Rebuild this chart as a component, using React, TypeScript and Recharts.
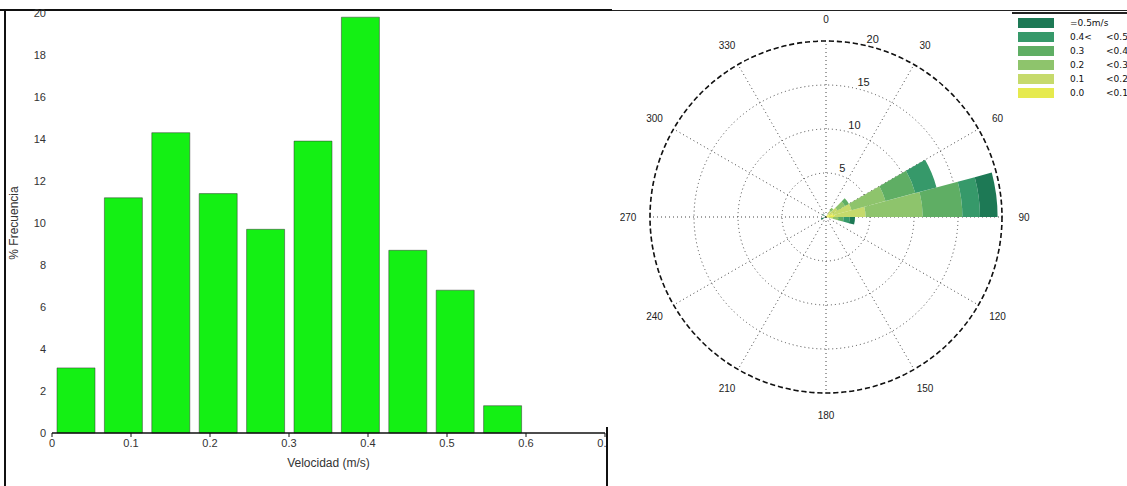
import React from 'react';
import {
  BarChart, Bar, XAxis, YAxis, Label,
  RadialBarChart, RadialBar, PolarGrid, PolarAngleAxis, PolarRadiusAxis, Legend,
} from 'recharts';

// histogram (left)
const speedCenters = [0.03, 0.09, 0.15, 0.21, 0.27, 0.33, 0.39, 0.45, 0.51, 0.57];
const frequency = [3.1, 11.2, 14.3, 11.4, 9.7, 13.9, 19.8, 8.7, 6.8, 1.3];
const speedTicks = [0, 0.1, 0.2, 0.3, 0.4, 0.5, 0.6, 0.7];
const freqTicks = [0, 2, 4, 6, 8, 10, 12, 14, 16, 18, 20];

// wind rose (right): 15 deg sectors, each labelled by the bearing where it ends (clockwise from N)
const directions = [0, 15, 30, 45, 60, 75, 90, 105, 120, 135, 150, 165, 180, 195, 210, 225, 240, 255, 270, 285, 300, 315, 330, 345];
const s00 = [0, 0, 0, 0.3, 0.5, 0.8, 1.0, 0.3, 0, 0, 0, 0, 0, 0, 0, 0, 0, 0, 0, 0, 0, 0, 0, 0];
const s01 = [0, 0, 0, 0.5, 1.0, 2.2, 3.5, 0.5, 0, 0, 0, 0, 0, 0, 0, 0, 0, 0, 0, 0, 0, 0, 0, 0];
const s02 = [0, 0, 0, 0.4, 1.0, 4.0, 6.5, 0.6, 0, 0, 0, 0, 0, 0, 0, 0, 0, 0, 0, 0, 0, 0, 0, 0];
const s03 = [0, 0, 0, 0, 0.5, 3.5, 4.5, 0.6, 0, 0, 0, 0, 0, 0, 0, 0, 0, 0, 0, 0, 0, 0, 0, 0];
const s04 = [0, 0, 0, 0, 0, 2.5, 2.0, 0.7, 0, 0, 0, 0, 0, 0, 0, 0, 0, 0, 0, 0, 0, 0, 0, 0];
const s05 = [0, 0, 0, 0, 0, 0, 2.0, 0.6, 0, 0, 0, 0, 0, 0, 0, 0, 0, 0.6, 0, 0, 0, 0.5, 0, 0];
const roseKeys = ['s00', 's01', 's02', 's03', 's04', 's05'];
const roseColors = ['#e6ea4e', '#c6da6c', '#8ec46c', '#5fae64', '#36996a', '#1d7955'];
const binLow = ['0.0', '0.1', '0.2', '0.3', '0.4<', '=0.5m/s'];
const binHigh = ['<0.1', '<0.2', '<0.3', '<0.4', '<0.5', ''];
const radiusTicks = [5, 10, 15, 20];
const spokeBearings = [0, 30, 60, 90, 120, 150, 180, 210, 240, 270, 300, 330];

const histData = speedCenters.map((v, i) => ({ v, f: frequency[i] }));
const roseSeries = [s00, s01, s02, s03, s04, s05];
const roseData = directions.map((d, i) => {
  const row: Record<string, any> = { dir: String(d) };
  roseKeys.forEach((k, j) => { row[k] = roseSeries[j][i]; });
  return row;
});

const font = '"Liberation Sans", Arial, sans-serif';

const AngleTick = (props: any) => {
  const { x, y, payload } = props;
  if (Number(payload.value) % 30 !== 0) return null;
  return (
    <text x={x} y={y} textAnchor="middle" dominantBaseline="central" fontSize={10} fontFamily={font} fill="#222">
      {payload.value}
    </text>
  );
};

const RadiusTick = (props: any) => {
  const { x, y, payload } = props;
  return (
    <text x={x + 4} y={y - 6} textAnchor="start" dominantBaseline="central" fontSize={11} fontFamily={font} fill="#222">
      {payload.value}
    </text>
  );
};

const RoseLegend = () => (
  <div style={{ background: '#fff', borderTop: '2px solid #222', fontFamily: '"DejaVu Sans", sans-serif', fontSize: 9, color: '#111', paddingTop: 2 }}>
    {[5, 4, 3, 2, 1, 0].map(i => (
      <div key={i} style={{ display: 'flex', alignItems: 'center', height: 14 }}>
        <span style={{ display: 'inline-block', width: 36, height: 10, background: roseColors[i], marginLeft: 6, marginRight: 16 }} />
        <span style={{ width: 36 }}>{binLow[i]}</span>
        <span>{binHigh[i]}</span>
      </div>
    ))}
  </div>
);

const App = () => (
  <div style={{ position: 'absolute', left: 0, top: 0, width: 1127, height: 486, background: '#fff', overflow: 'hidden' }}>
    {/* frame lines */}
    <div style={{ position: 'absolute', left: 0, top: 9, width: 612, height: 2, background: '#111' }} />
    <div style={{ position: 'absolute', left: 612, top: 10, width: 515, height: 1, background: '#222' }} />
    <div style={{ position: 'absolute', left: 4, top: 10, width: 2, height: 476, background: '#111' }} />
    <div style={{ position: 'absolute', left: 606, top: 427, width: 2, height: 59, background: '#111' }} />

    <div style={{ position: 'absolute', left: 0, top: 0, width: 607, height: 486, overflow: 'hidden' }}>
      <BarChart width={640} height={486} data={histData} margin={{ top: 13, right: 35, left: 10, bottom: 15 }}>
        <XAxis
          dataKey="v" type="number" domain={[0, 0.7]} ticks={speedTicks}
          tick={{ fontSize: 11, fill: '#333', fontFamily: font }} tickSize={4} tickMargin={2}
          axisLine={{ stroke: '#111', strokeWidth: 1.5 }} tickLine={{ stroke: '#111' }} height={38}
        >
          <Label value="Velocidad (m/s)" position="insideBottom" offset={4} style={{ fontSize: 12, fill: '#333', fontFamily: font }} />
        </XAxis>
        <YAxis
          type="number" domain={[0, 20]} ticks={freqTicks} width={42}
          tick={{ fontSize: 11, fill: '#333', fontFamily: font }} tickSize={4} tickMargin={2}
          axisLine={false} tickLine={false}
        >
          <Label
            content={({ viewBox }: any) => (
              <text
                x={viewBox.x + 4} y={viewBox.y + viewBox.height / 2}
                transform={`rotate(-90 ${viewBox.x + 4} ${viewBox.y + viewBox.height / 2})`}
                textAnchor="middle" dominantBaseline="central" fontSize={12} fill="#333" fontFamily={font}
              >
                % Frecuencia
              </text>
            )}
          />
        </YAxis>
        <Bar dataKey="f" fill="#14f014" stroke="#333" strokeWidth={0.5} barSize={38} isAnimationActive={false} />
      </BarChart>
    </div>

    <div style={{ position: 'absolute', left: 620, top: 0, width: 507, height: 486 }}>
      <RadialBarChart
        width={507} height={440} data={roseData} layout="centric"
        cx={206} cy={217} innerRadius={0} outerRadius={176}
        startAngle={90} endAngle={-270} barCategoryGap={0} barGap={0}
      >
        <PolarGrid
          gridType="circle" stroke="#444" strokeDasharray="1 3"
          polarAngles={spokeBearings.map(b => 90 - b)}
        />
        <PolarAngleAxis
          dataKey="dir" type="category" tick={AngleTick} tickLine={false} tickSize={22}
          axisLineType="circle" axisLine={{ stroke: '#111', strokeWidth: 1.6, strokeDasharray: '5 3' }}
        />
        {roseKeys.map((k, j) => (
          <RadialBar key={k} dataKey={k} stackId="rose" fill={roseColors[j]} isAnimationActive={false} />
        ))}
        <PolarRadiusAxis
          type="number" domain={[0, 20]} ticks={radiusTicks} angle={78}
          axisLine={false} tickLine={false} tick={RadiusTick}
        />
        <Legend
          content={RoseLegend}
          wrapperStyle={{ position: 'absolute', left: 392, top: 12, width: 118 }}
        />
      </RadialBarChart>
    </div>
  </div>
);

export default App;
